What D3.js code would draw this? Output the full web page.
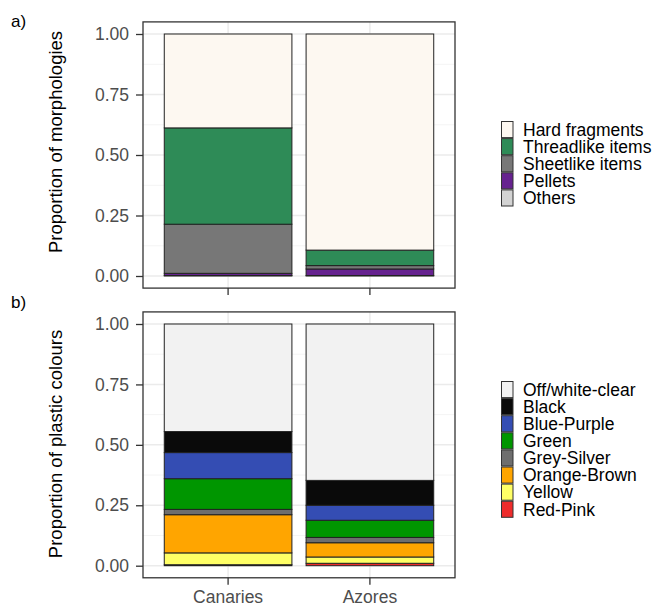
<!DOCTYPE html>
<html>
<head>
<meta charset="utf-8">
<script src="https://cdn.jsdelivr.net/npm/d3@7"></script>
<style>
  html, body { margin: 0; padding: 0; background: #fff; }
  svg { display: block; font-family: "Liberation Sans", Arial, sans-serif; }
</style>
</head>
<body>
<svg id="chart" width="660" height="607"></svg>
<script>
// Sites on the x axis
const sites = ["Canaries", "Azores"];
const yTicks = [0, 0.25, 0.5, 0.75, 1];

// a) Morphology categories (legend order, top of stack first)
const morphTypes = ["Hard fragments", "Threadlike items", "Sheetlike items", "Pellets", "Others"];
const morphColors = ["#FDF8F1", "#2E8B57", "#777777", "#66228F", "#D3D3D3"];
const hardFragments = [0.388, 0.893];
const threadlikeItems = [0.398, 0.064];
const sheetlikeItems = [0.203, 0.014];
const pellets = [0.009, 0.027];
const others = [0.002, 0.002];

// b) Plastic colour categories (legend order, top of stack first)
const colourTypes = ["Off/white-clear", "Black", "Blue-Purple", "Green", "Grey-Silver", "Orange-Brown", "Yellow", "Red-Pink"];
const colourFills = ["#F2F2F2", "#0A0A0A", "#344DB3", "#009600", "#6E6E6E", "#FFA500", "#FFFF66", "#EE2C2C"];
const offWhiteClear = [0.445, 0.647];
const black = [0.087, 0.103];
const bluePurple = [0.108, 0.062];
const green = [0.127, 0.071];
const greySilver = [0.022, 0.022];
const orangeBrown = [0.158, 0.059];
const yellow = [0.049, 0.026];
const redPink = [0.004, 0.010];

const morphSeries = [hardFragments, threadlikeItems, sheetlikeItems, pellets, others];
const colourSeries = [offWhiteClear, black, bluePurple, green, greySilver, orangeBrown, yellow, redPink];

function toRows(keys, series) {
  return sites.map((s, i) => {
    const row = { site: s };
    keys.forEach((k, j) => { row[k] = series[j][i]; });
    return row;
  });
}

const svg = d3.select("#chart");

const x = d3.scaleBand().domain(sites).range([143, 455]).paddingInner(0.1).paddingOuter(0.15);

function drawPanel(cfg) {
  const { keys, series, fills, y0, y1, title, titleY, tag, tagY, showXLabels, legendTop } = cfg;
  const y = d3.scaleLinear().domain([0, 1]).range([y0, y1]);
  const top = y(1.05), bottom = y(-0.05);
  const left = x.range()[0], right = x.range()[1];
  const g = svg.append("g");

  // gridlines
  const minor = [0.125, 0.375, 0.625, 0.875];
  g.selectAll(".minor").data(minor).join("line")
    .attr("x1", left).attr("x2", right)
    .attr("y1", d => y(d)).attr("y2", d => y(d))
    .attr("stroke", "#F4F4F4").attr("stroke-width", 1);
  g.selectAll(".major").data(yTicks).join("line")
    .attr("x1", left).attr("x2", right)
    .attr("y1", d => y(d)).attr("y2", d => y(d))
    .attr("stroke", "#EBEBEB").attr("stroke-width", 1.5);
  g.selectAll(".vmajor").data(sites).join("line")
    .attr("x1", d => x(d) + x.bandwidth() / 2).attr("x2", d => x(d) + x.bandwidth() / 2)
    .attr("y1", top).attr("y2", bottom)
    .attr("stroke", "#EBEBEB").attr("stroke-width", 1.5);

  // stacked bars: last legend entry sits at the bottom
  const rows = toRows(keys, series);
  const stackKeys = keys.slice().reverse();
  const stacked = d3.stack().keys(stackKeys)(rows);
  const fillOf = k => fills[keys.indexOf(k)];
  g.selectAll(".layer").data(stacked).join("g")
    .attr("fill", d => fillOf(d.key))
    .selectAll("rect").data(d => d).join("rect")
    .attr("x", d => x(d.data.site))
    .attr("width", x.bandwidth())
    .attr("y", d => y(d[1]))
    .attr("height", d => y(d[0]) - y(d[1]))
    .attr("stroke", "#222").attr("stroke-width", 1);

  // panel border
  g.append("rect").attr("x", left).attr("y", top)
    .attr("width", right - left).attr("height", bottom - top)
    .attr("fill", "none").attr("stroke", "#333").attr("stroke-width", 1.3);

  // y axis
  const ya = g.append("g").attr("transform", `translate(${left},0)`)
    .call(d3.axisLeft(y).tickValues(yTicks).tickFormat(d3.format(".2f")).tickSize(7).tickPadding(7));
  ya.select(".domain").remove();
  ya.selectAll(".tick line").attr("stroke", "#333").attr("stroke-width", 1.3);
  ya.selectAll(".tick text").attr("fill", "#4D4D4D").style("font-size", "17.5px")
    .style("font-family", "'Liberation Sans', Arial, sans-serif");

  // x axis
  const xa = g.append("g").attr("transform", `translate(0,${bottom})`)
    .call(d3.axisBottom(x).tickSize(7).tickPadding(6));
  xa.select(".domain").remove();
  xa.selectAll(".tick line").attr("stroke", "#333").attr("stroke-width", 1.3);
  xa.selectAll(".tick text").attr("fill", "#4D4D4D").style("font-size", "17.5px")
    .style("font-family", "'Liberation Sans', Arial, sans-serif")
    .style("display", showXLabels ? null : "none");

  // y axis title
  g.append("text")
    .attr("transform", `translate(62,${titleY}) rotate(-90)`)
    .attr("text-anchor", "middle")
    .style("font-size", "18.5px").attr("fill", "#000")
    .text(title);

  // panel tag
  g.append("text").attr("x", 11).attr("y", tagY)
    .style("font-size", "17px").attr("fill", "#000").text(tag);

  // legend
  const rowH = 17.1;
  const lg = g.append("g");
  keys.forEach((k, i) => {
    lg.append("rect").attr("x", 501.5).attr("y", legendTop + i * rowH + 0.5)
      .attr("width", 11.5).attr("height", rowH - 1)
      .attr("fill", fills[i]).attr("stroke", "#333").attr("stroke-width", 1);
    lg.append("text").attr("x", 523).attr("y", legendTop + i * rowH + rowH / 2)
      .attr("dy", "0.36em").style("font-size", "17.5px").attr("fill", "#000").text(k);
  });
}

drawPanel({
  keys: morphTypes, series: morphSeries, fills: morphColors,
  y0: 276, y1: 34, title: "Proportion of morphologies", titleY: 142,
  tag: "a)", tagY: 27, showXLabels: false, legendTop: 121
});

drawPanel({
  keys: colourTypes, series: colourSeries, fills: colourFills,
  y0: 565.7, y1: 324, title: "Proportion of plastic colours", titleY: 444,
  tag: "b)", tagY: 308, showXLabels: true, legendTop: 381
});
</script>
</body>
</html>
